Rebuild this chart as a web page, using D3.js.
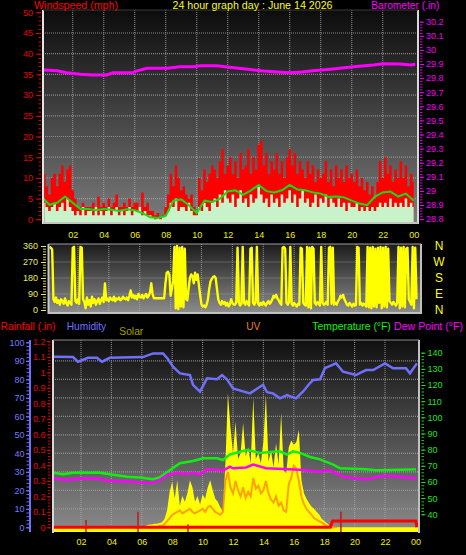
<!DOCTYPE html>
<html><head><meta charset="utf-8">
<script src="https://cdn.jsdelivr.net/npm/d3@7/dist/d3.min.js"></script>
<style>
body{margin:0;background:#000;}
svg{display:block;}
text{font-family:"Liberation Sans",Arial,sans-serif;}
</style>
</head><body>
<svg id="c" width="466" height="555"></svg>
<script>
// ---------------- DATA ----------------
const hourTicks = [2,4,6,8,10,12,14,16,18,20,22,24];
const hourLabels = ["02","04","06","08","10","12","14","16","18","20","22","00"];
const windTicks = [0,5,10,15,20,25,30,35,40,45,50];
const baroTicks = [28.8,28.9,29,29.1,29.2,29.3,29.4,29.5,29.6,29.7,29.8,29.9,30,30.1,30.2];
const dirTicks = [0,90,180,270,360];
const compassDirs = [0,90,180,270,360];
const compassLabels = ["N","E","S","W","N"];
const humTicks = [0,10,20,30,40,50,60,70,80,90,100];
const rainTicks = [0,0.1,0.2,0.3,0.4,0.5,0.6,0.7,0.8,0.9,1,1.1,1.2];
const tempTicks = [40,50,60,70,80,90,100,110,120,130,140];

// barometer (inHg) [hour, value]
const barometer = [[0.15,29.857],[1,29.852],[1.6,29.838],[2.5,29.828],[3.3,29.822],[4.2,29.822],[4.6,29.838],[5.9,29.838],[6.1,29.85],[6.8,29.87],[8.1,29.87],[8.9,29.881],[9.8,29.881],[10.2,29.888],[11.3,29.888],[12.1,29.877],[13.3,29.862],[14.3,29.85],[15.2,29.843],[16,29.838],[16.8,29.843],[17.5,29.852],[18.8,29.865],[20.1,29.881],[21.4,29.893],[22,29.902],[23.1,29.9],[23.8,29.893],[24.1,29.898]];

// wind gust (mph), every 10 minutes from 00:10
const windGust = [
 11,8,6,10,11,8, 11,13,9,12,13,7, 5,3,3,4,3,3, 3,4,3,5.5,3,4,
 3,5,3,4,6,3, 3,4,3,5,3,4, 4,3,6.5,3,4,2, 2,1,1.5,0.5,1,3,
 6,11,8,13,10,7, 8,6,5,6,3,2, 10,7,12,9,11,13, 12,10,14,17,11,13,
 15,11,14,10,16,12, 13,17,11,15,12,18, 19,13,16,11,14,12, 16,11,14,10,15,17,
 13,16,11,14,12,10, 14,11,13,9,12,10, 11,14,9,12,8,13, 10,12,9,13,10,11,
 9,12,8,10,7,9, 6,8,5,9,14,10, 15,11,13,9,12,10, 14,10,13,8,11,9];
// wind speed (mph), every 10 minutes from 00:10
const windSpeed = [
 4,3,2,3,4,2, 3,4,2,5,3,2, 1,2,1,3,1,2, 2,1,3,1,2,1,
 2,3,1,2,3,1, 2,1,2,3,1,2, 2,3,1,2,1,1, 0.5,0,0.5,0,0.5,1,
 2,4,3,5,2,3, 3,2,4,2,1,1, 3,2,4,3,2,4, 5,3,6,4,7,5,
 4,6,3,5,7,4, 5,3,6,4,5,8, 6,4,5,3,6,4, 5,3,6,4,5,7,
 4,6,3,5,7,4, 5,3,4,6,3,5, 4,6,3,5,4,3, 5,3,4,2,4,3,
 3,4,2,3,2,3, 2,3,2,3,4,3, 4,3,5,3,4,3, 4,3,5,3,4,3];
// average wind (mph), every 30 minutes from 00:00
const windAvg = [5.4,3.5,4,5.5,4,2.5,2.5,2.2,2.5,2.3,2.0,2.4,2.2,1.5,0.5,0.3,0.8,4.5,4.8,3.4,1.5,4.5,4.2,5,6.7,7,5.9,7,8.3,6.8,6.5,7,8.3,7.2,7,6.5,6.2,5.4,5.5,5.3,4.5,3.8,3.4,5.5,6.5,6.7,5.5,6.2,4.5];

// wind direction (deg), every 5 minutes from 00:10
const windDir = [
 355,350,340,60,45,70,40,55,30,60,50,35,65,40,25,50,40,30,350,355,
 50,40,60,35,355,350,60,45,10,70,30,55,20,75,40,60,30,50,65,35,
 55,70,45,150,55,65,50,70,60,55,75,50,65,60,70,55,60,75,65,60,
 70,55,80,110,70,85,65,80,60,90,75,70,85,65,80,90,70,80,100,150,
 90,66,66,66,66,66,66,66,66,66,150,210,215,200,80,120,165,355,10,360,
 5,350,20,355,15,345,60,55,120,180,200,190,150,210,170,200,140,80,30,20,
 25,15,30,60,120,160,175,185,190,180,120,60,40,30,50,35,45,25,40,20,
 30,60,40,30,
 30,45,350,40,25,35,355,40,30,50,
 35,25,345,350,40,30,45,355,35,25,
 40,30,45,35,25,40,50,35,45,60,
 80,70,85,65,55,40,30,350,355,345,
 40,30,45,355,35,25,40,30,20,35,
 30,350,345,40,30,25,355,15,350,10,
 355,345,40,30,45,35,25,355,40,30,
 35,45,30,350,355,35,350,30,40,30,
 50,60,80,70,85,60,45,30,25,40,
 30,20,35,25,30,355,350,30,40,25,
 35,30,20,355,15,350,10,355,20,345,
 15,350,40,355,10,350,20,355,15,345,
 50,40,30,45,35,25,40,355,10,350,
 20,355,15,345,350,60,45,30,355,10,
 350,60];

// humidity (%) [hour, value]
const humidity = [[0.16,92.2],[1.47,92],[1.8,89.5],[2.46,91.6],[3.05,91.6],[3.38,89.5],[3.9,91.6],[6.08,92],[6.74,94],[7.4,94],[7.72,91],[8.05,86.8],[8.51,83.2],[9.17,82.3],[9.37,77],[9.83,73.3],[10.29,80.5],[10.95,80],[11.28,82.3],[11.6,80],[12,75.1],[12.66,73.5],[13.12,72.4],[13.78,76],[13.98,77],[14.24,73],[14.63,72.4],[15.09,69.7],[15.55,71.5],[16.14,69.7],[16.6,73.3],[17.07,78],[17.27,79.6],[17.73,80],[18.05,86],[18.78,88.6],[19.24,84.1],[20.09,82.3],[20.75,85],[21.22,85],[22,88.6],[22.53,86],[23.38,86],[23.64,83.2],[24.1,88.6]];
// temperature (F) [hour, value]
const temperature = [[0.16,65.7],[0.82,64.8],[1.47,65.7],[3.25,65.7],[3.9,64.8],[5.03,63.3],[5.88,62.7],[6.74,61.7],[7.2,63],[7.86,67.4],[8.51,71.6],[9.37,73],[10.03,74.7],[10.95,74.7],[11.34,73.6],[11.8,77],[12.46,78.7],[12.92,79.8],[13.78,78],[14.43,78.5],[15.09,79],[15.55,77],[15.95,79],[16.4,78],[17.07,75.5],[17.73,74],[18.59,70.8],[19.05,68.5],[20.75,67.9],[21.41,67.3],[22.99,67.5],[24.04,67.8]];
// dew point (F) [hour, value]
const dewPoint = [[0.16,62.3],[1.08,61.3],[2.39,62.3],[3.25,61.8],[3.71,60.8],[5.42,60.2],[5.88,59.6],[6.74,59.6],[7.2,61.3],[7.66,64.3],[8.32,65.7],[8.97,65],[9.37,65.7],[9.83,64.8],[10.29,67.8],[10.95,67.5],[11.34,67],[11.8,69.5],[12,68.5],[12.86,69],[13.32,70.8],[14.17,68.5],[15.29,68],[16.4,67.5],[17.73,66.4],[18.38,67.2],[19.24,63.3],[20.36,61.8],[21.01,61.8],[21.41,63.3],[22.33,63.9],[23.38,62.8],[24.04,62.5]];
// rainfall (in) [hour, value]
const rainfall = [[0.1,0],[18.4,0],[18.55,0.04],[24.03,0.04],[24.1,0]];
// rain rate marks (in) [hour, value]
const rainRate = [[2.33,0.047],[5.75,0.1],[9.04,0.02],[19.1,0.1]];
// solar (W/m2), every 10 minutes from 06:00
const solar = [0,5,15,20,20,25,25,30,35,60,120,250,320,200,330,150,220,180,240,330,280,180,220,160,230,200,280,330,260,200,180,140,110,450,944,700,520,742,480,520,733,500,560,450,908,480,520,450,600,930,460,540,420,590,440,803,400,380,560,610,580,600,684,333,240,200,170,145,130,110,90,60,45,30,15,5,0,0];
// UV index, every 10 minutes from 06:00
const uv = [0,0,0,0,0,0,0,0.1,0.1,0.2,0.4,0.6,0.8,0.9,1.0,1.1,0.9,1.0,1.1,1.2,1.0,0.9,1.0,1.1,1.2,1.0,1.3,1.4,1.2,1.0,0.9,0.8,1.0,3.0,3.6,2.6,2.2,3.0,2.4,2.0,2.6,1.9,2.3,2.0,3.2,2.5,2.7,2.2,2.4,3.0,2.2,1.8,1.6,2.0,1.4,1.6,1.1,1.0,2.8,3.2,4.0,3.8,3.0,2.0,1.5,1.2,1.0,0.8,0.6,0.5,0.4,0.3,0.2,0.1,0,0,0,0];

// ---------------- LAYOUT ----------------
const P1 = {l:43, r:418, t:10, b:223};
const P2 = {l:48.5, r:421, t:244, b:313};
const P3 = {l:53, r:419, t:340, b:532};

const xTop = d3.scaleLinear([0,24],[41.7,413.7]);
const yWind = d3.scaleLinear([0,50],[219.3,12.3]);
const yBaro = d3.scaleLinear([28.8,30.2],[219.1,21.7]);
const xMid = d3.scaleLinear([0,24],[47,417.8]);
const yDir = d3.scaleLinear([0,360],[310,246]);
const xBot = d3.scaleLinear([0,24],[50.6,415.4]);
const yHum = d3.scaleLinear([0,100],[527.3,342.3]);
const yRain = d3.scaleLinear([0,1.2],[527.3,341.3]);
const yTemp = d3.scaleLinear([40,140],[514.3,352.7]);
const ySolar = d3.scaleLinear([0,1300],[527.3,342.3]);
const yUV = d3.scaleLinear([0,12],[527.3,342.3]);

const svg = d3.select("#c");
svg.append("rect").attr("width",466).attr("height",555).attr("fill","#000");
const defs = svg.append("defs");
function grad(id, c0, c1){
  const g = defs.append("linearGradient").attr("id",id).attr("x1",0).attr("y1",0).attr("x2",0).attr("y2",1);
  g.append("stop").attr("offset","0%").attr("stop-color",c0);
  g.append("stop").attr("offset","100%").attr("stop-color",c1);
}
grad("g1","#0c0c0c","#7c7c7c");
grad("g2","#1c1c1c","#8c8c8c");
grad("g3","#101010","#8a8a8a");
function clip(id,P){
  defs.append("clipPath").attr("id",id).append("rect").attr("x",P.l).attr("y",P.t).attr("width",P.r-P.l).attr("height",P.b-P.t);
}
clip("c1",P1); clip("c2",P2); clip("c3",P3);

function panelBg(P,fill){
  svg.append("rect").attr("x",P.l).attr("y",P.t).attr("width",P.r-P.l).attr("height",P.b-P.t).attr("fill",fill);
}
panelBg(P1,"url(#g1)"); panelBg(P2,"url(#g2)"); panelBg(P3,"url(#g3)");

const gridColor = "#a8a8a8";
function gridLines(P, xs, xScale, ys, yScale){
  const g = svg.append("g").attr("stroke",gridColor).attr("stroke-width",1.2).attr("stroke-dasharray","1,1").attr("opacity",0.75);
  g.selectAll(null).data(xs).join("line")
    .attr("x1",d=>xScale(d)).attr("x2",d=>xScale(d)).attr("y1",P.t).attr("y2",P.b);
  g.selectAll(null).data(ys).join("line")
    .attr("x1",P.l).attr("x2",P.r).attr("y1",d=>yScale(d)).attr("y2",d=>yScale(d));
}
gridLines(P1, hourTicks.slice(0,11), xTop, windTicks.slice(1,10), yWind);
gridLines(P2, hourTicks.slice(0,11), xMid, [90,180,270], yDir);
gridLines(P3, hourTicks.slice(0,11), xBot, humTicks.slice(1,10), yHum);

// ---------------- TOP PANEL ----------------
const gTop = svg.append("g").attr("clip-path","url(#c1)");
const tWind = (d,i)=>xTop((i+1)/6);
gTop.append("path").datum(windGust)
  .attr("d", d3.area().x(tWind).y0(P1.b).y1(d=>yWind(d)).curve(d3.curveStep))
  .attr("fill","#ff0000");
gTop.append("path").datum(windSpeed)
  .attr("d", d3.area().x(tWind).y0(P1.b).y1(d=>yWind(d)).curve(d3.curveStep))
  .attr("fill","#c8f2c8");
gTop.append("path").datum(windAvg)
  .attr("d", d3.line().x((d,i)=>xTop(i*0.5)).y(d=>yWind(d)))
  .attr("fill","none").attr("stroke","#10e010").attr("stroke-width",2);
gTop.append("path").datum(barometer)
  .attr("d", d3.line().x(d=>xTop(d[0])).y(d=>yBaro(d[1])))
  .attr("fill","none").attr("stroke","#ff00ff").attr("stroke-width",3);

// borders
function borders(P, cl, cr, cb, ct){
  svg.append("line").attr("x1",P.l).attr("x2",P.l).attr("y1",P.t).attr("y2",P.b+1).attr("stroke",cl).attr("stroke-width",2);
  svg.append("line").attr("x1",P.r).attr("x2",P.r).attr("y1",P.t).attr("y2",P.b+1).attr("stroke",cr).attr("stroke-width",2);
  if(cb) svg.append("line").attr("x1",P.l).attr("x2",P.r).attr("y1",P.b).attr("y2",P.b).attr("stroke",cb).attr("stroke-width",2);
  if(ct) svg.append("line").attr("x1",P.l).attr("x2",P.r).attr("y1",P.t).attr("y2",P.t).attr("stroke",ct).attr("stroke-width",1);
}
borders(P1,"#e4e4e4","#d8d8d8","#c4c4c4","#3a3a3a");

function styleAxis(g,color,size){
  g.select(".domain").remove();
  g.selectAll("line").attr("stroke",color).attr("stroke-width",1);
  g.selectAll("text").attr("fill",color).style("font-size",(size||9)+"px").style("font-family","'Liberation Sans',Arial,sans-serif");
}
const fmt1 = d=>String(+d.toFixed(1));
// wind axis
styleAxis(svg.append("g").attr("transform","translate(41,0)")
  .call(d3.axisLeft(yWind).ticks(50).tickSize(2.5).tickFormat("")),"#e00000");
styleAxis(svg.append("g").attr("transform","translate(41,0)")
  .call(d3.axisLeft(yWind).tickValues(windTicks).tickSize(5).tickPadding(3)),"#e80000");
// barometer axis
styleAxis(svg.append("g").attr("transform","translate(420,0)")
  .call(d3.axisRight(yBaro).ticks(70).tickSize(2.5).tickFormat("")),"#e000e0");
styleAxis(svg.append("g").attr("transform","translate(420,0)")
  .call(d3.axisRight(yBaro).tickValues(baroTicks).tickSize(4).tickPadding(2).tickFormat(fmt1)),"#f000f0");
// hour labels top
styleAxis(svg.append("g").attr("transform","translate(0,230)")
  .call(d3.axisBottom(xTop).tickValues(hourTicks).tickSize(0).tickPadding(2).tickFormat((d,i)=>hourLabels[i])),"#f0f000");

// titles
function title(txt,x,y,len,color,size){
  svg.append("text").attr("x",x).attr("y",y).attr("fill",color).style("font-size",(size||10.5)+"px")
    .attr("textLength",len).attr("lengthAdjust","spacingAndGlyphs").text(txt);
}
title("Windspeed (mph)",34,9,84,"#ff0000");
title("24 hour graph day : June 14 2026",172.5,9,160,"#ffff00");
title("Barometer (.in)",371.3,9,68,"#ff00ff");

// ---------------- MIDDLE PANEL ----------------
const gMid = svg.append("g").attr("clip-path","url(#c2)");
gMid.append("path").datum(windDir)
  .attr("d", d3.line().x((d,i)=>xMid((i+2)/12)).y(d=>yDir(d)))
  .attr("fill","none").attr("stroke","#ffff00").attr("stroke-width",2.4).attr("stroke-linejoin","round");
borders(P2,"#c8c8c8","#c0c0c0","#c0c0c0","#a0a0a0");
styleAxis(svg.append("g").attr("transform","translate(46,0)")
  .call(d3.axisLeft(yDir).tickValues(d3.range(0,361,15)).tickSize(3).tickFormat("")),"#d8d850");
styleAxis(svg.append("g").attr("transform","translate(46,0)")
  .call(d3.axisLeft(yDir).tickValues(dirTicks).tickSize(5).tickPadding(3)),"#e8e860");
svg.append("g").selectAll("text").data(compassDirs).join("text")
  .attr("x",439).attr("y",d=>yDir(d)).attr("dy","0.36em").attr("text-anchor","middle")
  .attr("fill","#ffff00").style("font-size","12px").text((d,i)=>compassLabels[i]);

// ---------------- BOTTOM PANEL ----------------
const gBot = svg.append("g").attr("clip-path","url(#c3)");
gBot.append("path").datum(solar)
  .attr("d", d3.area().x((d,i)=>xBot(6+i/6)).y0(P3.b).y1(d=>ySolar(d)))
  .attr("fill","#ffff00");
gBot.append("path").datum([0,24.2])
  .attr("d", d3.area().x(d=>xBot(d)).y0(P3.b).y1(ySolar(0)))
  .attr("fill","#ffff00");
gBot.append("path").datum(uv)
  .attr("d", d3.line().x((d,i)=>xBot(6+i/6)).y(d=>yUV(d)))
  .attr("fill","none").attr("stroke","#ff8a00").attr("stroke-width",2).attr("opacity",0.8);
gBot.append("path").datum(temperature)
  .attr("d", d3.line().x(d=>xBot(d[0])).y(d=>yTemp(d[1])))
  .attr("fill","none").attr("stroke","#10f010").attr("stroke-width",2.5);
gBot.append("path").datum(dewPoint)
  .attr("d", d3.line().x(d=>xBot(d[0])).y(d=>yTemp(d[1])))
  .attr("fill","none").attr("stroke","#ff00ff").attr("stroke-width",2.5);
gBot.append("path").datum(humidity)
  .attr("d", d3.line().x(d=>xBot(d[0])).y(d=>yHum(d[1])))
  .attr("fill","none").attr("stroke","#7070ff").attr("stroke-width",2.5);
gBot.selectAll(null).data(rainRate).join("line")
  .attr("x1",d=>xBot(d[0])).attr("x2",d=>xBot(d[0])).attr("y1",P3.b).attr("y2",d=>yRain(d[1]))
  .attr("stroke","#c01818").attr("stroke-width",1.5);
gBot.append("path").datum(rainfall)
  .attr("d", d3.line().x(d=>xBot(d[0])).y(d=>yRain(d[1])))
  .attr("fill","none").attr("stroke","#ff0000").attr("stroke-width",3);
borders(P3,"#d8d8d8","#c0c0c0",null,"#8c8c8c");

// humidity axis
svg.append("line").attr("x1",30).attr("x2",30).attr("y1",P3.t).attr("y2",P3.b).attr("stroke","#7070ff").attr("stroke-width",2);
styleAxis(svg.append("g").attr("transform","translate(29,0)")
  .call(d3.axisLeft(yHum).ticks(50).tickSize(2.5).tickFormat("")),"#7070ff");
styleAxis(svg.append("g").attr("transform","translate(29,0)")
  .call(d3.axisLeft(yHum).tickValues(humTicks).tickSize(3).tickPadding(1.5)),"#7878ff");
// rain axis
styleAxis(svg.append("g").attr("transform","translate(50.5,0)")
  .call(d3.axisLeft(yRain).ticks(60).tickSize(2.5).tickFormat("")),"#e00000");
styleAxis(svg.append("g").attr("transform","translate(50.5,0)")
  .call(d3.axisLeft(yRain).tickValues(rainTicks).tickSize(3.5).tickPadding(1.5).tickFormat(fmt1)),"#e80000");
// temperature axis
styleAxis(svg.append("g").attr("transform","translate(421.5,0)")
  .call(d3.axisRight(yTemp).ticks(60).tickSize(2.5).tickFormat("")),"#10d010");
styleAxis(svg.append("g").attr("transform","translate(421.5,0)")
  .call(d3.axisRight(yTemp).tickValues(tempTicks).tickSize(4).tickPadding(2)),"#20e020");
// hour labels bottom
styleAxis(svg.append("g").attr("transform","translate(0,537)")
  .call(d3.axisBottom(xBot).tickValues(hourTicks).tickSize(0).tickPadding(2).tickFormat((d,i)=>hourLabels[i])),"#f0f000");

title("Rainfall (.in)",0.5,330,55,"#ff0000");
title("Humidity",66.7,330,39.5,"#7070ff");
title("Solar",119.3,335,24,"#a0a000");
title("UV",246.3,330,14,"#f08020");
title("Temperature (°F)",312.3,330,78.5,"#10f010");
title("Dew Point (°F)",394,330,69,"#ff00ff");
</script>
</body></html>
